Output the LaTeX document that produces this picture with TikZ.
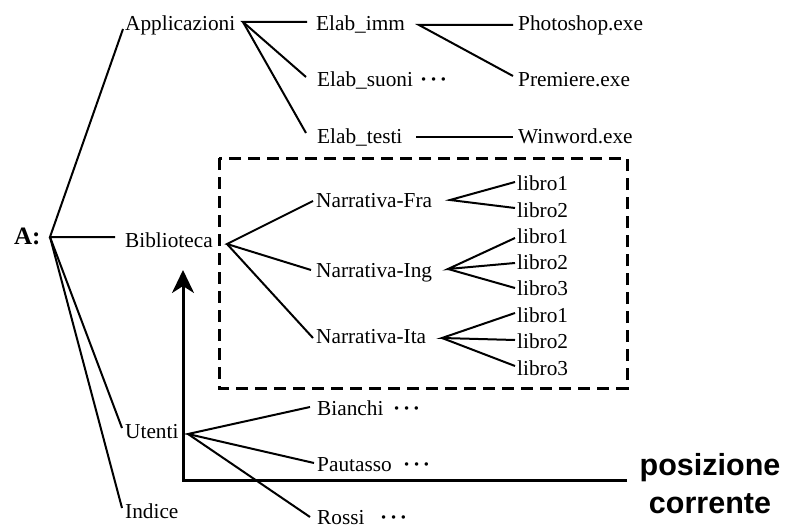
\documentclass[tikz,border=0pt]{standalone}
\usepackage{fontspec}
\setmainfont{Liberation Serif}
\newfontfamily\possans{Liberation Sans}
\usetikzlibrary{arrows.meta}
\newcommand\mydots{\textperiodcentered\kern2.8pt\textperiodcentered\kern2.8pt\textperiodcentered}
\tikzset{
  lbl/.style={font=\fontsize{21.3}{25}\selectfont, inner sep=0pt, anchor=base west},
  dotsl/.style={font=\bfseries\fontsize{21.3}{25}\selectfont, inner sep=0pt, anchor=base west},
  edge/.style={line width=2pt},
  boxline/.style={line width=3pt, dash pattern=on 12pt off 7pt},
  arr/.style={line width=3pt, -{Stealth[length=23pt,width=22pt,inset=7pt]}},
  bigtxt/.style={font=\possans\bfseries\fontsize{30.5}{38}\selectfont, align=center, inner sep=0pt}
}
\begin{document}
\begin{tikzpicture}[x=1pt,y=-1pt]
\useasboundingbox (0,0) rectangle (788,527);
% root
\node[lbl, font=\bfseries\fontsize{25}{29}\selectfont] (A) at (14,244) {A:};
% level 1
\node[lbl] (app) at (125,31) {Applicazioni};
\node[lbl] (bib) at (125,247) {Biblioteca};
\node[lbl] (ute) at (125,438) {Utenti};
\node[lbl] (ind) at (125,518) {Indice};
% level 2
\node[lbl] (eimm) at (316,31) {Elab\_imm};
\node[lbl] (esuo) at (317,87) {Elab\_suoni};
\node[lbl] (etes) at (317,143) {Elab\_testi};
\node[lbl] (nfra) at (316,207) {Narrativa-Fra};
\node[lbl] (ning) at (316,277) {Narrativa-Ing};
\node[lbl] (nita) at (316,343) {Narrativa-Ita};
\node[lbl] (bia) at (317,415) {Bianchi};
\node[lbl] (pau) at (317,471) {Pautasso};
\node[lbl] (ros) at (317,524) {Rossi};
% dots
\node[dotsl] (d1) at (420,87) {\mydots};
\node[dotsl] (d2) at (393,415) {\mydots};
\node[dotsl] (d3) at (403,471) {\mydots};
\node[dotsl] (d4) at (380,524) {\mydots};
% level 3
\node[lbl] (ps) at (518,31) {Photoshop.exe};
\node[lbl] (pr) at (518,87) {Premiere.exe};
\node[lbl] (ww) at (518,143) {Winword.exe};
\node[lbl] (f1) at (517,190) {libro1};
\node[lbl] (f2) at (517,217) {libro2};
\node[lbl] (g1) at (517,243) {libro1};
\node[lbl] (g2) at (517,269) {libro2};
\node[lbl] (g3) at (517,295) {libro3};
\node[lbl] (i1) at (517,322) {libro1};
\node[lbl] (i2) at (517,348) {libro2};
\node[lbl] (i3) at (517,375) {libro3};
% big label
\node[bigtxt] (pos) at (710,484) {posizione\\corrente};

% coordinates for connector ends
\coordinate (aJ) at (50,237);
\coordinate (appIn) at (123,29);
\coordinate (bibIn) at (115,237);
\coordinate (uteIn) at (122,428);
\coordinate (indIn) at (122,508);
\coordinate (appJ) at (243,22);
\coordinate (eimmIn) at (307,22);
\coordinate (esuoIn) at (306,77);
\coordinate (etesIn) at (306,133);
\coordinate (eimmJ) at (419,25);
\coordinate (psIn) at (513,25);
\coordinate (prIn) at (513,76);
\coordinate (etesJ) at (416,137);
\coordinate (wwIn) at (513,137);
\coordinate (bibJ) at (227,244);
\coordinate (nfraIn) at (313,201);
\coordinate (ningIn) at (311,270);
\coordinate (nitaIn) at (313,338);
\coordinate (nfraJ) at (450,200);
\coordinate (f1In) at (515,182);
\coordinate (f2In) at (515,208);
\coordinate (ningJ) at (448,269);
\coordinate (g1In) at (515,238);
\coordinate (g2In) at (515,263);
\coordinate (g3In) at (515,288);
\coordinate (nitaJ) at (442,338);
\coordinate (i1In) at (515,313);
\coordinate (i2In) at (515,340);
\coordinate (i3In) at (515,366);
\coordinate (uteJ) at (188,434);
\coordinate (biaIn) at (310,407);
\coordinate (pauIn) at (314,463);
\coordinate (rosIn) at (310,517);

% connectors
\draw[edge] (appIn) -- (aJ) -- (bibIn);
\draw[edge] (aJ) -- (uteIn);
\draw[edge] (aJ) -- (indIn);
\draw[edge] (eimmIn) -- (appJ) -- (esuoIn);
\draw[edge] (appJ) -- (etesIn);
\draw[edge] (psIn) -- (eimmJ) -- (prIn);
\draw[edge] (etesJ) -- (wwIn);
\draw[edge] (nfraIn) -- (bibJ) -- (ningIn);
\draw[edge] (bibJ) -- (nitaIn);
\draw[edge] (f1In) -- (nfraJ) -- (f2In);
\draw[edge] (g1In) -- (ningJ) -- (g2In);
\draw[edge] (ningJ) -- (g3In);
\draw[edge] (i1In) -- (nitaJ) -- (i2In);
\draw[edge] (nitaJ) -- (i3In);
\draw[edge] (biaIn) -- (uteJ) -- (pauIn);
\draw[edge] (uteJ) -- (rosIn);

% dashed box
\coordinate (boxNW) at (219,158);
\coordinate (boxSE) at (627,388);
\draw[boxline] (boxNW) rectangle (boxSE);

% current position arrow
\coordinate (arrEnd) at (627,480);
\coordinate (arrCorner) at (183,480);
\coordinate (arrTip) at (183,270);
\draw[arr] (arrEnd) -- (arrCorner) -- (arrTip);
\end{tikzpicture}
\end{document}
